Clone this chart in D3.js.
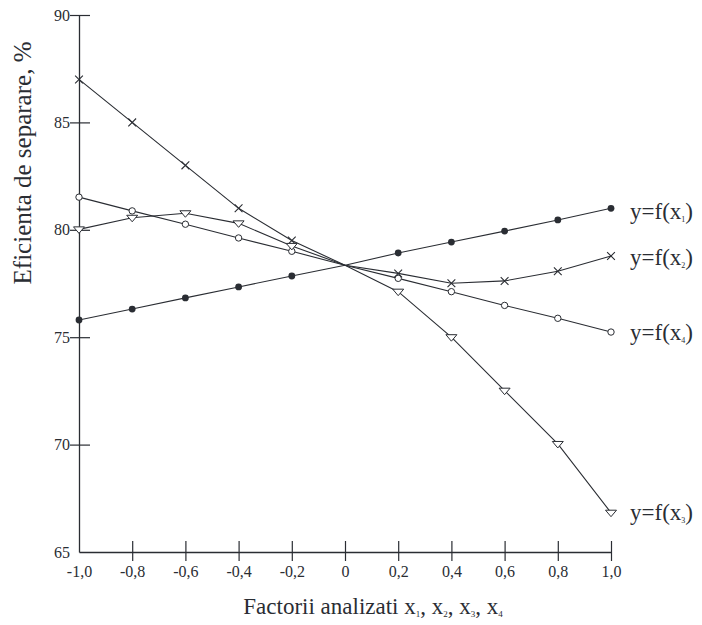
<!DOCTYPE html>
<html>
<head>
<meta charset="utf-8">
<script src="https://cdn.jsdelivr.net/npm/d3@7"></script>
<style>
  body { margin: 0; background: #fff; }
  svg { display: block; font-family: "Liberation Serif", "DejaVu Serif", serif; }
</style>
</head>
<body>
<svg id="chart" width="702" height="625"></svg>
<script>
const xs = [-1.0, -0.8, -0.6, -0.4, -0.2, 0, 0.2, 0.4, 0.6, 0.8, 1.0];
const xTickLabels = ['-1,0', '-0,8', '-0,6', '-0,4', '-0,2', '0', '0,2', '0,4', '0,6', '0,8', '1,0'];
const yTicks = [65, 70, 75, 80, 85, 90];

const y1 = [75.8, 76.31, 76.83, 77.34, 77.85, 78.35, 78.92, 79.43, 79.94, 80.46, 81.0];
const y2 = [87.0, 85.0, 83.0, 81.0, 79.5, 78.35, 77.97, 77.51, 77.62, 78.07, 78.78];
const y3 = [80.02, 80.56, 80.77, 80.3, 79.25, 78.35, 77.12, 75.0, 72.51, 70.03, 66.83];
const y4 = [81.52, 80.88, 80.26, 79.62, 79.0, 78.35, 77.74, 77.12, 76.48, 75.88, 75.24];

const seriesNames = ['1', '2', '3', '4'];

const ink = '#2a2d33';
const svg = d3.select('#chart');

const xScale = d3.scaleLinear().domain([-1, 1]).range([79, 611]);
const yScale = d3.scaleLinear().domain([65, 90]).range([552, 15]);

// axes
const xAxis = d3.axisBottom(xScale)
    .tickValues(xs)
    .tickFormat((d, i) => xTickLabels[i])
    .tickSize(0)
    .tickPadding(14);
const gx = svg.append('g')
    .attr('transform', `translate(0, ${yScale(65)})`)
    .call(xAxis);
gx.select('.domain').attr('stroke', ink).attr('stroke-width', 1.3);
gx.selectAll('.tick line').remove();
gx.selectAll('.tick').append('line')
    .attr('y1', -11).attr('y2', 9)
    .attr('stroke', ink).attr('stroke-width', 1.2);
gx.selectAll('.tick').filter((d, i) => i === 0).select('line').remove();
gx.selectAll('.tick text')
    .attr('fill', ink).attr('font-size', 16)
    .attr('font-family', '"Liberation Serif", serif');

const yAxis = d3.axisLeft(yScale).tickValues(yTicks).tickSize(0).tickPadding(9);
const gy = svg.append('g')
    .attr('transform', `translate(${xScale(-1)}, 0)`)
    .call(yAxis);
gy.select('.domain').attr('stroke', ink).attr('stroke-width', 1.3);
gy.selectAll('.tick line').remove();
gy.selectAll('.tick').filter(d => d !== 65).append('line')
    .attr('x1', -9).attr('x2', 11)
    .attr('stroke', ink).attr('stroke-width', 1.2);
gy.selectAll('.tick text')
    .attr('fill', ink).attr('font-size', 16)
    .attr('font-family', '"Liberation Serif", serif');

// titles
svg.append('text')
    .attr('transform', `translate(31, 163) rotate(-90)`)
    .attr('text-anchor', 'middle')
    .attr('font-size', 25)
    .attr('fill', ink)
    .text('Eficienta de separare, %');

const xt = svg.append('text')
    .attr('x', 373).attr('y', 614)
    .attr('text-anchor', 'middle')
    .attr('font-size', 23)
    .attr('fill', ink);
xt.append('tspan').text('Factorii analizati ');
seriesNames.forEach((n, i) => {
    xt.append('tspan').text('x');
    xt.append('tspan').attr('font-size', 9).attr('dy', 3).text(n);
    xt.append('tspan').attr('dy', -3).text(i < 3 ? ', ' : '');
});

// lines
const line = d3.line()
    .x((d, i) => xScale(xs[i]))
    .y(d => yScale(d));

const allSeries = [y1, y2, y3, y4];
svg.selectAll('.series')
    .data(allSeries)
    .join('path')
    .attr('class', 'series')
    .attr('d', d => line(d))
    .attr('fill', 'none')
    .attr('stroke', ink)
    .attr('stroke-width', 1.1);

const pts = arr => arr.map((v, i) => ({x: xs[i], y: v})).filter(p => p.x !== 0);

// x1: filled circles
svg.append('g').selectAll('circle')
    .data(pts(y1)).join('circle')
    .attr('cx', d => xScale(d.x)).attr('cy', d => yScale(d.y))
    .attr('r', 3.4).attr('fill', ink);

// x4: open circles
svg.append('g').selectAll('circle')
    .data(pts(y4)).join('circle')
    .attr('cx', d => xScale(d.x)).attr('cy', d => yScale(d.y))
    .attr('r', 3.2).attr('fill', '#fff').attr('stroke', ink).attr('stroke-width', 1);

// x2: crosses
svg.append('g').selectAll('path')
    .data(pts(y2)).join('path')
    .attr('transform', d => `translate(${xScale(d.x)}, ${yScale(d.y)}) rotate(45)`)
    .attr('d', 'M-5.5,0H5.5M0,-5.5V5.5')
    .attr('fill', 'none').attr('stroke', ink).attr('stroke-width', 1.1);

// x3: open down-triangles
svg.append('g').selectAll('path')
    .data(pts(y3)).join('path')
    .attr('transform', d => `translate(${xScale(d.x)}, ${yScale(d.y)})`)
    .attr('d', 'M-5.5,-2.5L5.5,-2.5L0,4Z')
    .attr('fill', '#fff').attr('stroke', ink).attr('stroke-width', 1);

// series labels
const labelY = [y1, y2, y3, y4].map(s => s[s.length - 1]);
const labelOff = [3, 1, -1, 0];
labelY.forEach((v, i) => {
    const t = svg.append('text')
        .attr('x', 630)
        .attr('y', yScale(v) + 8 + labelOff[i])
        .attr('font-size', 23)
        .attr('fill', ink);
    t.append('tspan').text('y=f(x');
    t.append('tspan').attr('font-size', 8).attr('dy', 3).text(seriesNames[i]);
    t.append('tspan').attr('dy', -3).text(')');
});
</script>
</body>
</html>
